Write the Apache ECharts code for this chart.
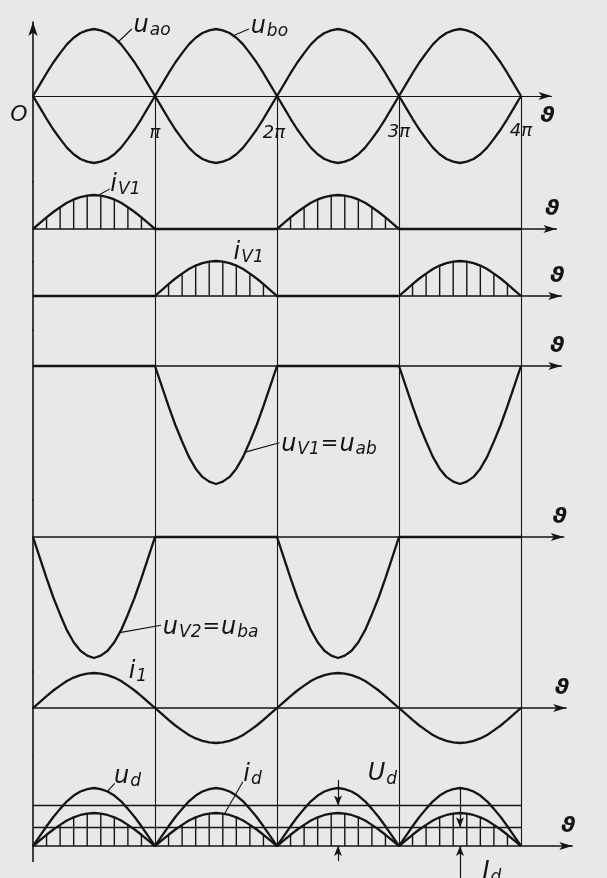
<!DOCTYPE html>
<html>
<head>
<meta charset="utf-8">
<title>Full-wave rectifier waveforms</title>
<script src="https://cdn.jsdelivr.net/npm/echarts@6/dist/echarts.min.js"></script>
<style>
  html, body { margin: 0; padding: 0; background: #e8e8e6; }
  #chart { width: 607px; height: 878px; }
</style>
</head>
<body>
<div id="chart"></div>
<script>
// ---- waveform data (x in multiples of pi, values relative to each quantity's peak) ----
// one half-wave sampled every pi/18
const HALF_WAVE = [0, 0.17, 0.34, 0.5, 0.64, 0.77, 0.87, 0.94, 0.98, 1,
                   0.98, 0.94, 0.87, 0.77, 0.64, 0.5, 0.34, 0.17, 0];
// peak value in each of the four half periods 0..pi, pi..2pi, 2pi..3pi, 3pi..4pi
const U_AO = [1, -1, 1, -1];
const U_BO = [-1, 1, -1, 1];
const I_V1_A = [1, 0, 1, 0];
const I_V1_B = [0, 1, 0, 1];
const U_V1 = [0, -2, 0, -2];
const U_V2 = [-2, 0, -2, 0];
const I_1 = [1, -1, 1, -1];
const U_D = [1, 1, 1, 1];
const I_D = [1, 1, 1, 1];
// mean values of the rectified voltage and current
const U_D_MEAN = 0.70;
const I_D_MEAN = 0.57;
// sample indices inside a half-wave where hatch strokes are drawn
const HATCH_INDEX = [2, 4, 6, 8, 10, 12, 14, 16];
const TICK_LABELS = ['O', 'π', '2π', '3π', '4π'];
const AXIS_NAME = 'ϑ';

// ---- layout ----
const PI = Math.PI;
const LEFT = 33;
const PX_PER_PI = 122;
const INK = '#141414';
const FONT = '"DejaVu Sans", sans-serif';
const PANELS = [
  { top: 22,  bottom: 182, base: 96,  amp: 67,   axisEnd: 4.25, nameBelow: true },
  { top: 182, bottom: 262, base: 229, amp: 34,   axisEnd: 4.29 },
  { top: 262, bottom: 330, base: 296, amp: 35,   axisEnd: 4.33 },
  { top: 330, bottom: 500, base: 366, amp: 59,   axisEnd: 4.33 },
  { top: 500, bottom: 672, base: 537, amp: 60.5, axisEnd: 4.35 },
  { top: 672, bottom: 755, base: 708, amp: 35,   axisEnd: 4.37 },
  { top: 755, bottom: 878, base: 846, amp: 58, amp2: 33, axisEnd: 4.42 }
];
const LEFT_AXIS_BOTTOM = 862;                 // px where the vertical axis stops
const TICK_OFFSETS = [[-14, 19], [0, 37], [-3, 37], [0, 36], [0, 35]];
const I_AXIS = PANELS.length;                 // index of the current axis in the last panel
const LAST = PANELS.length - 1;

const RICH = {
  m: { fontFamily: FONT, fontStyle: 'italic', fontSize: 24, color: INK, lineHeight: 28 },
  s: { fontFamily: FONT, fontStyle: 'italic', fontSize: 17, color: INK, lineHeight: 18, padding: [10, 0, 0, 1] },
  e: { fontFamily: FONT, fontStyle: 'italic', fontSize: 21, color: INK, lineHeight: 28, padding: [0, 1, 0, 1] }
};

// text annotations: x in multiples of pi, y in panel units
const LABELS = [
  { panel: 0, at: [0.82, 1.05], text: '{m|u}{s|ao}' },
  { panel: 0, at: [1.78, 1.03], text: '{m|u}{s|bo}' },
  { panel: 1, at: [0.63, 1.30], text: '{m|i}{s|V1}' },
  { panel: 2, at: [1.64, 1.24], text: '{m|i}{s|V1}' },
  { panel: 3, at: [2.03, -1.33], text: '{m|u}{s|V1}{e|=}{m|u}{s|ab}' },
  { panel: 4, at: [1.06, -1.50], text: '{m|u}{s|V2}{e|=}{m|u}{s|ba}' },
  { panel: 5, at: [0.78, 1.03], text: '{m|i}{s|1}' },
  { panel: 6, at: [0.66, 1.20], text: '{m|u}{s|d}' },
  { panel: 6, axis: 'i', at: [1.72, 2.15], text: '{m|i}{s|d}' },
  { panel: 6, at: [2.74, 1.24], text: '{m|U}{s|d}' },
  { panel: 6, at: [3.68, -0.45], text: '{m|I}{s|d}' }
];
const LEADERS = [
  { panel: 0, from: [0.70, 0.81], to: [0.81, 1.0] },
  { panel: 0, from: [1.64, 0.90], to: [1.77, 1.0] },
  { panel: 1, from: [0.54, 1.0], to: [0.63, 1.18] },
  { panel: 2, from: [1.53, 1.0], to: [1.64, 1.14] },
  { panel: 3, from: [1.74, -1.46], to: [2.02, -1.30] },
  { panel: 4, from: [0.71, -1.58], to: [1.05, -1.46] },
  { panel: 6, from: [0.61, 0.94], to: [0.67, 1.08] },
  { panel: 6, axis: 'i', from: [1.57, 0.98], to: [1.72, 1.95] }
];

// ---- helpers ----
const N = HALF_WAVE.length - 1;
function wave(halves) {
  const pts = [];
  halves.forEach((peak, h) => {
    HALF_WAVE.forEach((s, k) => {
      if (h > 0 && k === 0) return;
      pts.push([(h + k / N) * PI, peak * s]);
    });
  });
  return pts;
}
function hatch(halves) {
  const pts = [];
  halves.forEach((peak, h) => {
    if (!peak) return;
    HATCH_INDEX.forEach(k => pts.push([(h + k / N) * PI, peak * HALF_WAVE[k]]));
  });
  return pts;
}
function yRange(p, amp) {
  return { min: -(p.bottom - p.base) / amp, max: (p.base - p.top) / amp };
}
function curve(name, panel, halves, yIndex) {
  return {
    name, type: 'line', xAxisIndex: panel, yAxisIndex: yIndex == null ? panel : yIndex,
    data: wave(halves), showSymbol: false, symbol: 'none', silent: true, clip: false,
    lineStyle: { color: INK, width: 2.3 }, z: 5
  };
}
function hatchSeries(panel, halves, yIndex) {
  return {
    type: 'custom', xAxisIndex: panel, yAxisIndex: yIndex == null ? panel : yIndex,
    data: hatch(halves), silent: true, encode: { x: 0, y: 1 },
    renderItem: (params, api) => {
      const x = api.value(0), y = api.value(1);
      const a = api.coord([x, 0]), b = api.coord([x, y]);
      return { type: 'line', shape: { x1: a[0], y1: a[1], x2: b[0], y2: b[1] },
               style: { stroke: INK, lineWidth: 1.4 } };
    }
  };
}
function markLines(pairs, width, arrow) {
  return {
    silent: true, animation: false,
    symbol: arrow ? ['none', 'arrow'] : ['none', 'none'], symbolSize: [6, 10],
    label: { show: false }, emphasis: { disabled: true },
    lineStyle: { color: INK, width, type: 'solid', opacity: 1 },
    data: pairs.map(s => [{ coord: s[0] }, { coord: s[1] }])
  };
}
function frame(panel, yIdx, pairs, width, arrow) {
  return {
    type: 'line', xAxisIndex: panel, yAxisIndex: yIdx, data: [], symbol: 'none', silent: true,
    clip: false, markLine: markLines(pairs, width, arrow)
  };
}

// ---- axes ----
const grid = PANELS.map(p => ({
  left: LEFT, top: p.top, width: p.axisEnd * PX_PER_PI, height: p.bottom - p.top,
  containLabel: false, outerBoundsMode: 'none'
}));

const xAxis = PANELS.map((p, i) => ({
  gridIndex: i, type: 'value', min: 0, max: p.axisEnd * PI,
  axisLine: { show: true, onZero: true, symbol: ['none', 'arrow'], symbolSize: [6, 13],
              lineStyle: { color: INK, width: i === 0 ? 1.1 : 1.5 } },
  axisTick: { show: false }, splitLine: { show: false }, axisLabel: { show: false },
  name: AXIS_NAME, nameLocation: 'end', nameGap: -4,
  nameTextStyle: {
    fontFamily: FONT, fontStyle: 'italic', fontWeight: 'bold', fontSize: 22, color: INK,
    align: 'center', verticalAlign: p.nameBelow ? 'top' : 'bottom',
    padding: p.nameBelow ? [9, 0, 0, 0] : [0, 0, 9, 0]
  }
}));

const yAxis = PANELS.map((p, i) => Object.assign({
  gridIndex: i, type: 'value',
  axisLine: { show: i !== LAST, onZero: true,
              symbol: i === 0 ? ['none', 'arrow'] : ['none', 'none'], symbolSize: [7, 14],
              lineStyle: { color: INK, width: 1.6 } },
  axisTick: { show: false }, axisLabel: { show: false }, splitLine: { show: false }
}, yRange(p, p.amp)));
const last = PANELS[LAST];
yAxis.push(Object.assign({
  gridIndex: LAST, type: 'value', position: 'left',
  axisLine: { show: false }, axisTick: { show: false }, axisLabel: { show: false }, splitLine: { show: false }
}, yRange(last, last.amp2)));

// ---- series ----
const series = [];
series.push(curve('uao', 0, U_AO), curve('ubo', 0, U_BO));
series.push(curve('iV1', 1, I_V1_A), hatchSeries(1, I_V1_A));
series.push(curve('iV1b', 2, I_V1_B), hatchSeries(2, I_V1_B));
series.push(curve('uV1', 3, U_V1));
series.push(curve('uV2', 4, U_V2));
series.push(curve('i1', 5, I_1));
series.push(curve('ud', LAST, U_D), curve('id', LAST, I_D, I_AXIS), hatchSeries(LAST, I_D, I_AXIS));

// vertical division lines at pi, 2pi, 3pi, 4pi through every panel
PANELS.forEach((p, i) => {
  const r = yRange(p, p.amp);
  let from = r.min, to = r.max;
  if (i === 0) { from = 0; to = r.min; }
  if (i === LAST) { from = 0; to = r.max; }
  series.push(frame(i, i, [1, 2, 3, 4].map(k => [[k * PI, from], [k * PI, to]]), 1.1, false));
});
// the ordinate line continues through the output panel and stops a little below its baseline
series.push(frame(LAST, LAST, [[[0, -(LEFT_AXIS_BOTTOM - last.base) / last.amp], [0, yRange(last, last.amp).max]]], 1.6, false));

// mean value levels and their dimension arrows in the output panel
const uPeakInI = last.amp / last.amp2;
series.push(frame(LAST, LAST, [[[0, U_D_MEAN], [4 * PI, U_D_MEAN]]], 1.3, false));
series.push(frame(LAST, I_AXIS, [[[0, I_D_MEAN], [4 * PI, I_D_MEAN]]], 1.3, false));
series.push(frame(LAST, LAST, [
  [[2.5 * PI, 1.14], [2.5 * PI, U_D_MEAN]],
  [[2.5 * PI, -0.26], [2.5 * PI, 0]],
  [[3.5 * PI, -0.55], [3.5 * PI, 0]]
], 1.2, true));
series.push(frame(LAST, I_AXIS, [[[3.5 * PI, uPeakInI], [3.5 * PI, I_D_MEAN]]], 1.2, true));

// invisible anchor points carrying text; opacity kept at 1 so the text stays solid
const ANCHOR_STYLE = { color: 'rgba(0,0,0,0)', opacity: 1 };

// angle tick labels under the first panel
series.push({
  type: 'scatter', xAxisIndex: 0, yAxisIndex: 0, silent: true, clip: false,
  symbolSize: 1, itemStyle: ANCHOR_STYLE,
  data: TICK_LABELS.map((t, k) => ({
    value: [k * PI, 0],
    label: { show: true, position: 'inside', offset: TICK_OFFSETS[k], formatter: t,
             fontFamily: FONT, fontStyle: 'italic',
             fontSize: k === 0 ? 22 : 18, color: INK }
  })),
  z: 6
});

// text labels with their leader lines
const groups = {};
function groupKey(o) { return o.panel + (o.axis === 'i' ? 'i' : 'u'); }
LABELS.forEach(l => { (groups[groupKey(l)] = groups[groupKey(l)] || { l: [], d: [], o: l }).l.push(l); });
LEADERS.forEach(d => { (groups[groupKey(d)] = groups[groupKey(d)] || { l: [], d: [], o: d }).d.push(d); });
Object.keys(groups).forEach(key => {
  const g = groups[key];
  const panel = g.o.panel;
  const yIdx = g.o.axis === 'i' ? I_AXIS : panel;
  series.push({
    type: 'scatter', xAxisIndex: panel, yAxisIndex: yIdx, silent: true, clip: false,
    symbolSize: 1, itemStyle: ANCHOR_STYLE,
    data: g.l.map(l => ({
      value: [l.at[0] * PI, l.at[1]],
      label: { show: true, position: 'right', distance: 0, color: INK, formatter: l.text, rich: RICH }
    })),
    markLine: markLines(g.d.map(d => [[d.from[0] * PI, d.from[1]], [d.to[0] * PI, d.to[1]]]), 1.1, false),
    z: 6
  });
});

const chart = echarts.init(document.getElementById('chart'), null, { renderer: 'canvas' });
chart.setOption({
  backgroundColor: '#e8e8e6',
  animation: false,
  grid, xAxis, yAxis, series
});
</script>
</body>
</html>
